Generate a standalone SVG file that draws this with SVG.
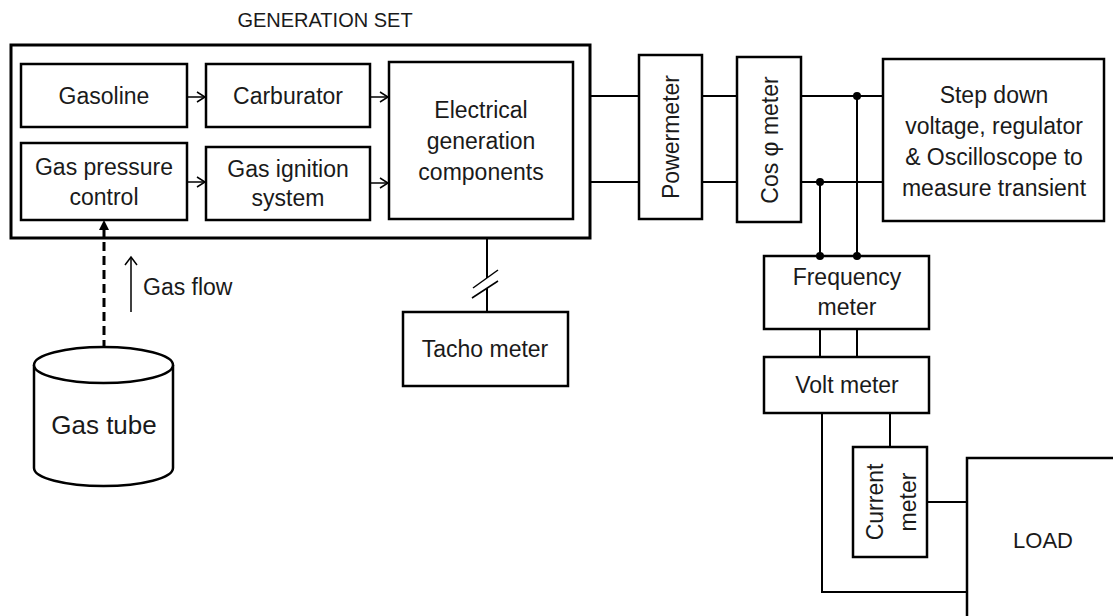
<svg xmlns="http://www.w3.org/2000/svg" width="1113" height="616" viewBox="0 0 1113 616">
<defs>
<style>
.box{fill:#fff;stroke:#000;stroke-width:2.5}
.t{font-family:"Liberation Sans",Arial,sans-serif;font-size:23px;fill:#1a1a1a;text-anchor:middle}
.w{stroke:#000;stroke-width:2;fill:none}
.a{stroke:#000;stroke-width:1.5;fill:none}
.dot{fill:#000}
</style>
<marker id="open" markerWidth="12" markerHeight="12" refX="9" refY="6" orient="auto" markerUnits="userSpaceOnUse">
<path d="M1,1 L9,6 L1,11" fill="none" stroke="#000" stroke-width="1.5"/>
</marker>
</defs>
<rect width="1113" height="616" fill="#fff"/>

<g id="generation-set">
<rect x="11" y="45" width="579" height="193" fill="#fff" stroke="#000" stroke-width="3"/>
<text class="t" x="325" y="27" style="font-size:20px">GENERATION SET</text>
</g>

<g id="gasoline">
<rect class="box" x="21" y="64" width="166" height="63"/>
<text class="t" x="104" y="104">Gasoline</text>
</g>
<g id="carburator">
<rect class="box" x="206" y="64" width="164" height="63"/>
<text class="t" x="288" y="104">Carburator</text>
</g>
<g id="gas-pressure-control">
<rect class="box" x="21" y="143" width="166" height="77"/>
<text class="t" x="104" y="175">Gas pressure</text>
<text class="t" x="104" y="205">control</text>
</g>
<g id="gas-ignition-system">
<rect class="box" x="206" y="147" width="164" height="73"/>
<text class="t" x="288" y="177">Gas ignition</text>
<text class="t" x="288" y="206">system</text>
</g>
<g id="electrical-generation">
<rect class="box" x="389" y="62" width="184" height="157"/>
<text class="t" x="481" y="118">Electrical</text>
<text class="t" x="481" y="149">generation</text>
<text class="t" x="481" y="180">components</text>
</g>

<g id="powermeter">
<rect class="box" x="639" y="55" width="63" height="164"/>
<text class="t" transform="translate(679,137) rotate(-90)">Powermeter</text>
</g>
<g id="cos-phi-meter">
<rect class="box" x="737" y="57" width="64" height="165"/>
<text class="t" transform="translate(778,140) rotate(-90)">Cos φ meter</text>
</g>
<g id="step-down">
<rect class="box" x="883" y="59" width="221" height="162"/>
<text class="t" x="994" y="103">Step down</text>
<text class="t" x="994" y="134">voltage, regulator</text>
<text class="t" x="994" y="165">&amp; Oscilloscope to</text>
<text class="t" x="994" y="196">measure transient</text>
</g>
<g id="frequency-meter">
<rect class="box" x="764" y="256" width="165" height="73"/>
<text class="t" x="847" y="285">Frequency</text>
<text class="t" x="847" y="315">meter</text>
</g>
<g id="volt-meter">
<rect class="box" x="764" y="357" width="165" height="56"/>
<text class="t" x="847" y="393">Volt meter</text>
</g>
<g id="current-meter">
<rect class="box" x="853" y="447" width="74" height="110"/>
<text class="t" transform="translate(883,502) rotate(-90)">Current</text>
<text class="t" transform="translate(916,502) rotate(-90)">meter</text>
</g>
<g id="load">
<rect class="box" x="967" y="458" width="200" height="200"/>
<text class="t" x="1043" y="548" style="font-size:22px">LOAD</text>
</g>
<g id="tacho-meter">
<rect class="box" x="403" y="312" width="165" height="74"/>
<text class="t" x="485" y="357">Tacho meter</text>
</g>
<g id="gas-tube">
<path d="M34,365 V468 A69.5,18 0 0 0 173,468 V365" fill="#fff" stroke="#000" stroke-width="2.5"/>
<ellipse cx="103.5" cy="365" rx="69.5" ry="18" fill="#fff" stroke="#000" stroke-width="2.5"/>
<text class="t" x="104" y="434" style="font-size:26px">Gas tube</text>
</g>

<g id="connectors">
<line class="a" x1="188" y1="97" x2="205" y2="97" marker-end="url(#open)"/>
<line class="a" x1="371" y1="97" x2="388" y2="97" marker-end="url(#open)"/>
<line class="a" x1="188" y1="182" x2="205" y2="182" marker-end="url(#open)"/>
<line class="a" x1="371" y1="183" x2="388" y2="183" marker-end="url(#open)"/>

<line x1="104" y1="242" x2="104" y2="347" stroke="#000" stroke-width="3" stroke-dasharray="9 5"/>
<line x1="104" y1="238" x2="104" y2="228" stroke="#000" stroke-width="3"/>
<polygon points="104,220 99,230 109,230" fill="#000"/>

<line class="a" x1="131" y1="312" x2="131" y2="258"/>
<path class="a" d="M125,265 L131,257 L137,265"/>
<text class="t" x="143" y="295" text-anchor="start" style="text-anchor:start">Gas flow</text>

<line class="w" x1="487" y1="238" x2="487" y2="278"/>
<line class="w" x1="487" y1="288" x2="487" y2="312"/>
<line class="a" x1="473" y1="288" x2="498" y2="270"/>
<line class="a" x1="472" y1="298" x2="498" y2="281"/>

<line class="w" x1="590" y1="96" x2="639" y2="96"/>
<line class="w" x1="702" y1="96" x2="737" y2="96"/>
<line class="w" x1="801" y1="96" x2="883" y2="96"/>
<line class="w" x1="590" y1="182" x2="639" y2="182"/>
<line class="w" x1="702" y1="182" x2="737" y2="182"/>
<line class="w" x1="801" y1="182" x2="883" y2="182"/>

<line class="w" x1="857" y1="96" x2="857" y2="256"/>
<line class="w" x1="820" y1="182" x2="820" y2="256"/>
<circle class="dot" cx="857" cy="96" r="4"/>
<circle class="dot" cx="820" cy="182" r="4"/>
<circle class="dot" cx="820" cy="256" r="4"/>
<circle class="dot" cx="857" cy="256" r="4"/>

<line class="w" x1="820" y1="329" x2="820" y2="357"/>
<line class="w" x1="857" y1="329" x2="857" y2="357"/>

<path class="w" d="M822,413 V592 H967"/>
<line class="w" x1="890" y1="413" x2="890" y2="447"/>
<line class="w" x1="927" y1="502" x2="967" y2="502"/>
</g>
</svg>
